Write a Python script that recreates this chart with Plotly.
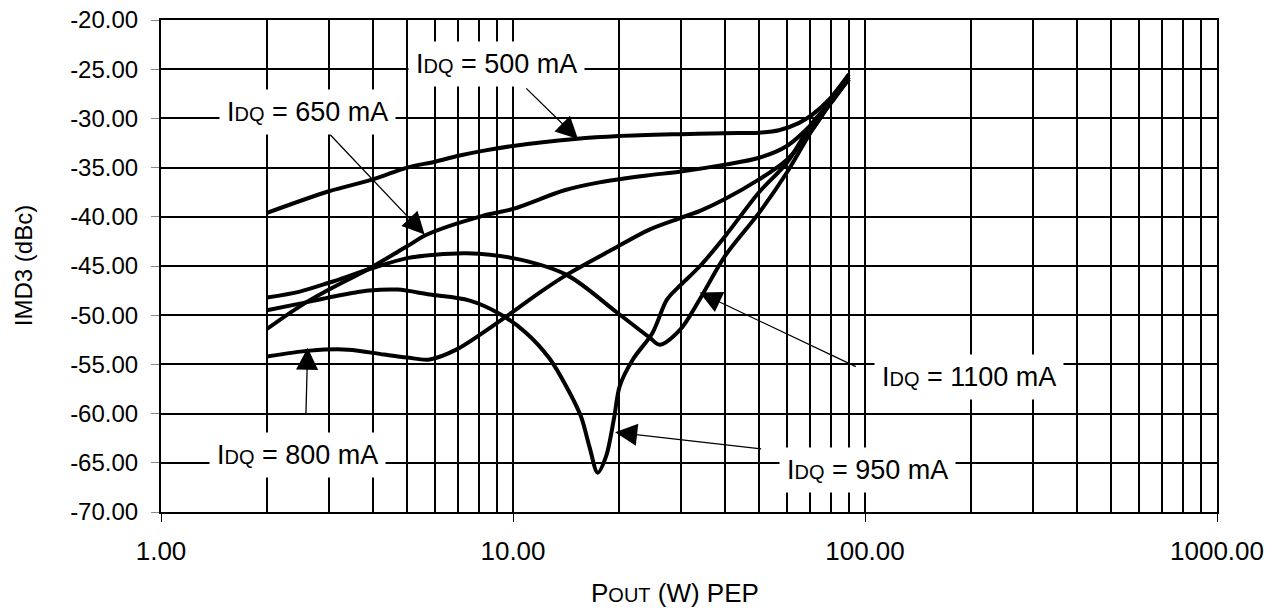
import numpy as np
import plotly.graph_objects as go

# --- DATA ---
x_500 = [2, 3, 4, 5, 6, 7, 8.2, 10, 15, 20, 30, 40, 50, 57, 65, 71, 79, 90]
y_500 = [-39.6, -37.4, -36.2, -35.0, -34.4, -33.8, -33.3, -32.8, -32.1, -31.8, -31.6, -31.5, -31.45, -31.2, -30.45, -29.6, -28.1, -25.5]

x_650 = [2, 2.48, 3, 3.84, 5, 5.7, 8.2, 10, 14, 17.6, 24, 30, 40, 50, 60, 71, 81, 90]
y_650 = [-51.4, -49.1, -47.4, -45.4, -43.0, -41.8, -39.9, -39.2, -37.3, -36.5, -35.8, -35.4, -34.7, -34.0, -32.8, -30.5, -28.2, -25.8]

x_800 = [2, 2.65, 3.4, 4.3, 5, 5.8, 6.9, 8.2, 9.6, 11.9, 14.2, 19.2, 24.4, 30, 34, 40, 50, 60, 71, 81, 90]
y_800 = [-54.2, -53.6, -53.5, -54.0, -54.3, -54.5, -53.5, -51.8, -50.1, -47.7, -45.9, -43.3, -41.3, -40.1, -39.4, -38.2, -36.2, -34.2, -31.1, -28.1, -26.0]

x_950 = [2, 2.5, 3, 3.9, 4.7, 5.8, 7.5, 9.2, 10.9, 12.7, 14.2, 15.6, 16.5, 17.4, 18.4, 19.4, 20.1, 21.9, 24.9, 27.4, 30, 34, 40, 50, 60, 71, 81, 90]
y_950 = [-49.5, -48.8, -48.2, -47.5, -47.4, -47.9, -48.5, -49.9, -51.8, -54.4, -57.3, -60.3, -63.4, -66.0, -64.3, -60.3, -57.2, -54.5, -51.8, -48.4, -46.9, -45.0, -42.0, -37.5, -34.5, -30.4, -28.1, -26.0]

x_1100 = [2, 2.48, 3, 4, 5, 6, 7.4, 10, 14.2, 19.7, 24.5, 26.1, 29.8, 33.9, 40, 50, 60, 71, 81, 90]
y_1100 = [-48.2, -47.6, -46.7, -45.2, -44.2, -43.85, -43.7, -44.2, -45.9, -49.7, -52.3, -53.0, -51.5, -48.4, -44.0, -39.6, -35.5, -31.1, -28.1, -26.0]

series = [(x_500, y_500), (x_650, y_650), (x_800, y_800), (x_950, y_950), (x_1100, y_1100)]

x_ticks = [1, 10, 100, 1000]
x_ticktext = ["1.00", "10.00", "100.00", "1000.00"]
x_minor = [m * d for d in [1, 10, 100] for m in range(2, 10)]
y_ticks = [-70, -65, -60, -55, -50, -45, -40, -35, -30, -25, -20]
y_ticktext = [f"{v:.2f}" for v in y_ticks]  # plain hyphen, as in the original

# label text, label centre (x, y), arrow tail (x, y), arrow tip (x, y)
labels = ["500", "650", "800", "950", "1100"]
label_pos = [(9.0, -24.5), (2.61, -29.35), (2.44, -64.2), (101.6, -65.7), (197.7, -56.3)]
arrow_tail = [(10.8, -26.8), (2.96, -31.3), (2.58, -60.2), (51.2, -63.6), (95.1, -55.3)]
arrow_tip = [(15.3, -32.1), (5.61, -41.8), (2.61, -53.3), (19.5, -61.9), (33.9, -47.7)]

FONT = "Liberation Sans, Arial, sans-serif"

fig = go.Figure()
for xs, ys in series:
    fig.add_trace(go.Scatter(x=xs, y=ys, mode="lines", line=dict(color="black", width=4, shape="spline", smoothing=0.9),
                             showlegend=False, hoverinfo="x+y"))

for lab, (lx, ly), (tx, ty), (hx, hy) in zip(labels, label_pos, arrow_tail, arrow_tip):
    # arrow
    fig.add_annotation(x=np.log10(hx), y=hy, ax=np.log10(tx), ay=ty, xref="x", yref="y", axref="x", ayref="y",
                       text="", showarrow=True, arrowhead=2, arrowsize=3.4, arrowwidth=1.3, arrowcolor="black")
    # label box
    fig.add_annotation(x=np.log10(lx), y=ly, xref="x", yref="y", showarrow=False,
                       text=f"I<span style='font-size:20px'>DQ</span> = {lab} mA",
                       font=dict(family=FONT, size=27, color="black"), bgcolor="white", borderpad=7)

fig.add_annotation(x=-0.1305, y=0.5, xref="paper", yref="paper", text="IMD3 (dBc)", textangle=-90,
                   showarrow=False, font=dict(family=FONT, size=24, color="black"), xanchor="center", yanchor="middle")
fig.add_annotation(x=0.487, y=-0.165, xref="paper", yref="paper",
                   text="P<span style='font-size:20px'>OUT</span> (W) PEP",
                   showarrow=False, font=dict(family=FONT, size=26, color="black"), xanchor="center", yanchor="middle")

fig.update_xaxes(type="log", range=[0, 3], tickvals=x_ticks, ticktext=x_ticktext,
                 ticks="outside", ticklen=8, tickwidth=1, tickcolor="black", ticklabelstandoff=7,
                 ticklabeloverflow="allow", automargin=False,
                 showgrid=True, gridcolor="black", gridwidth=2,
                 minor=dict(tickvals=x_minor, showgrid=True, gridcolor="black", gridwidth=2, ticks=""),
                 showline=True, linecolor="black", linewidth=2, mirror=True, zeroline=False,
                 tickfont=dict(family=FONT, size=26, color="black"))
fig.update_yaxes(range=[-70, -20], tickvals=y_ticks, ticktext=y_ticktext,
                 ticks="outside", ticklen=8, tickwidth=1, tickcolor="#888", ticklabelstandoff=8,
                 ticklabeloverflow="allow", automargin=False,
                 showgrid=True, gridcolor="black", gridwidth=2,
                 showline=True, linecolor="black", linewidth=2, mirror=True, zeroline=False,
                 tickfont=dict(family=FONT, size=24, color="black"))
# page body adds an 8 px offset, so margins are set 8 px smaller on the left/top
fig.update_layout(width=1281, height=608, margin=dict(l=153, r=72, t=12, b=104),
                  paper_bgcolor="white", plot_bgcolor="white")

fig.write_html("out.html")
